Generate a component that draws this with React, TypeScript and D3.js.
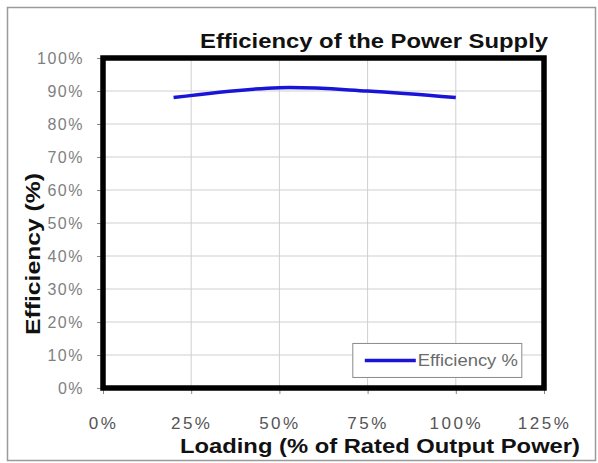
import React, { useRef, useEffect } from 'react';
import * as d3 from 'd3';

const loading = [0.2, 0.5, 0.75, 1.0];
const efficiency = [0.88, 0.91, 0.9, 0.88];
const xTicks = [0, 0.25, 0.5, 0.75, 1.0, 1.25];
const yTicks = [0, 0.1, 0.2, 0.3, 0.4, 0.5, 0.6, 0.7, 0.8, 0.9, 1.0];

const App = () => {
  const svgRef = useRef<SVGSVGElement>(null);

  useEffect(() => {
    const W = 598;
    const H = 463;
    const margin = { top: 58, right: 54, bottom: 75, left: 103 };
    const width = W - margin.left - margin.right;
    const height = H - margin.top - margin.bottom;
    const font = 'Arial, "Liberation Sans", sans-serif';

    const root = d3.select(svgRef.current);
    root.selectAll('*').remove();

    root
      .append('rect')
      .attr('x', 7.5)
      .attr('y', 7.5)
      .attr('width', W - 10)
      .attr('height', H - 10)
      .attr('fill', '#fff')
      .attr('stroke', '#9a9a9a')
      .attr('stroke-width', 1.5);

    const svg = root.append('g').attr('transform', `translate(${margin.left},${margin.top})`);

    const x = d3.scaleLinear().domain([0, 1.25]).range([0, width]);
    const y = d3.scaleLinear().domain([0, 1]).range([height, 0]);

    // gridlines
    svg
      .append('g')
      .selectAll('line')
      .data(yTicks)
      .join('line')
      .attr('x1', 0)
      .attr('x2', width)
      .attr('y1', (d) => y(d))
      .attr('y2', (d) => y(d))
      .attr('stroke', '#cfcfcf')
      .attr('stroke-width', 1);
    svg
      .append('g')
      .selectAll('line')
      .data(xTicks)
      .join('line')
      .attr('x1', (d) => x(d))
      .attr('x2', (d) => x(d))
      .attr('y1', 0)
      .attr('y2', height)
      .attr('stroke', '#cfcfcf')
      .attr('stroke-width', 1);

    const yAxis = svg
      .append('g')
      .call(
        d3
          .axisLeft(y)
          .tickValues(yTicks)
          .tickSize(6)
          .tickPadding(13)
          .tickFormat(d3.format('.0%')),
      );
    yAxis.select('.domain').remove();
    yAxis.selectAll('line').attr('stroke', '#888');
    yAxis
      .selectAll('text')
      .attr('fill', '#808080')
      .style('font-family', font)
      .style('font-size', '16px')
      .style('letter-spacing', '1.5px');

    const xAxis = svg
      .append('g')
      .attr('transform', `translate(0,${height})`)
      .call(
        d3
          .axisBottom(x)
          .tickValues(xTicks)
          .tickSize(6)
          .tickPadding(23)
          .tickFormat(d3.format('.0%')),
      );
    xAxis.select('.domain').remove();
    xAxis.selectAll('line').attr('stroke', '#888');
    xAxis
      .selectAll('text')
      .attr('fill', '#555')
      .style('font-family', font)
      .style('font-size', '17px')
      .style('letter-spacing', '2.5px');

    // heavy plot frame
    svg
      .append('rect')
      .attr('x', 0)
      .attr('y', 0)
      .attr('width', width)
      .attr('height', height)
      .attr('fill', 'none')
      .attr('stroke', '#000')
      .attr('stroke-width', 5.5);

    const line = d3
      .line<number>()
      .x((d, i) => x(loading[i]))
      .y((d) => y(d))
      .curve(d3.curveCatmullRom.alpha(0.5));

    svg
      .append('path')
      .datum(efficiency)
      .attr('fill', 'none')
      .attr('stroke', '#1a14d8')
      .attr('stroke-width', 3.5)
      .attr('d', line);

    // legend
    const lg = svg.append('g').attr('transform', `translate(${x(1.0) - 103},${y(0.135)})`);
    lg.append('rect')
      .attr('width', 169)
      .attr('height', 34)
      .attr('fill', '#fff')
      .attr('stroke', '#8a8a8a')
      .attr('stroke-width', 1);
    lg.append('line')
      .attr('x1', 12)
      .attr('x2', 63)
      .attr('y1', 17)
      .attr('y2', 17)
      .attr('stroke', '#1a14d8')
      .attr('stroke-width', 3.5);
    lg.append('text')
      .attr('x', 65)
      .attr('y', 23)
      .attr('fill', '#6a6a6a')
      .attr('textLength', 100)
      .attr('lengthAdjust', 'spacingAndGlyphs')
      .style('font-family', font)
      .style('font-size', '17px')
      .text('Efficiency %');

    root
      .append('text')
      .attr('x', 200)
      .attr('y', 48)
      .attr('textLength', 348)
      .attr('lengthAdjust', 'spacingAndGlyphs')
      .attr('fill', '#111')
      .style('font-family', font)
      .style('font-weight', 'bold')
      .style('font-size', '20px')
      .text('Efficiency of the Power Supply');

    root
      .append('text')
      .attr('x', 180)
      .attr('y', 453)
      .attr('textLength', 400)
      .attr('lengthAdjust', 'spacingAndGlyphs')
      .attr('fill', '#111')
      .style('font-family', font)
      .style('font-weight', 'bold')
      .style('font-size', '21px')
      .text('Loading (% of Rated Output Power)');

    root
      .append('text')
      .attr('transform', 'rotate(-90)')
      .attr('x', -335)
      .attr('y', 40)
      .attr('textLength', 162)
      .attr('lengthAdjust', 'spacingAndGlyphs')
      .attr('fill', '#111')
      .style('font-family', font)
      .style('font-weight', 'bold')
      .style('font-size', '20px')
      .text('Efficiency (%)');
  }, []);

  return (
    <svg
      ref={svgRef}
      width={598}
      height={463}
      style={{ position: 'absolute', left: 0, top: 0, display: 'block' }}
    />
  );
};

export default App;
